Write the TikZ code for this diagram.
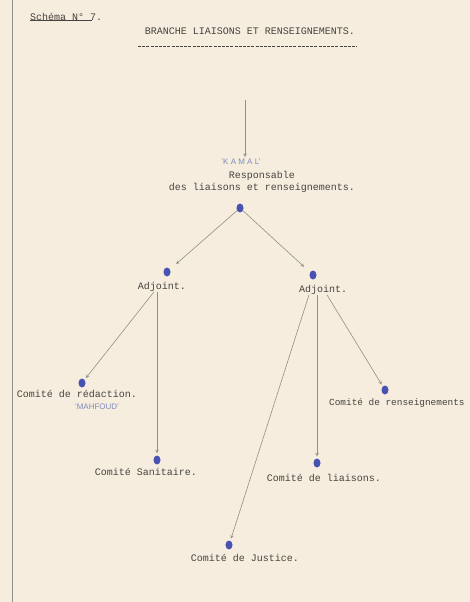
\documentclass[tikz,border=0pt]{standalone}
\usepackage{fontspec}
\setmonofont{Liberation Mono}
\setsansfont{Liberation Sans}
\usetikzlibrary{shapes.geometric}

\definecolor{papier}{RGB}{246,237,222}
\definecolor{encre}{RGB}{70,68,64}
\definecolor{crayon}{RGB}{125,140,190}
\definecolor{bille}{RGB}{72,82,178}
\definecolor{trait}{RGB}{145,143,140}

\tikzset{
  texte/.style={font=\ttfamily\fontsize{10}{11.5}\selectfont, text=encre, inner sep=0pt, align=center},
  crayonne/.style={font=\sffamily\fontsize{8}{9}\selectfont, text=crayon, inner sep=0pt},
  pastille/.style={ellipse, fill=bille, minimum width=7pt, minimum height=9pt, inner sep=0pt},
  fleche/.style={->, trait, line width=0.6pt, shorten >=2pt}
}

\begin{document}
\begin{tikzpicture}[>=stealth, x=1pt, y=-1pt]
        % Feuille
        \fill[papier] (0,0) rectangle (470,602);
        \useasboundingbox (0,0) rectangle (470,602);
        \draw[trait, line width=0.8pt] (12,0) -- (12,602);

        % Titre
        \node[texte, anchor=west] (schema) at (30,17) {Schéma N° 7.};
        \draw[encre, line width=0.5pt] (schema.south west) ++(0,-1) -- ++(62,0);
        \node[texte] (titre) at (250,31) {BRANCHE  LIAISONS ET RENSEIGNEMENTS.};
        \draw[encre, line width=1pt, dash pattern=on 3pt off 1.2pt] (138,47) -- (357,47);

        % Responsable
        \coordinate (haut) at (245,100);
        \node[crayonne] (kamal) at (241,162) {'K A M A L'};
        \node[texte] (resp) at (262,182) {Responsable\\des liaisons et renseignements.};
        \draw[fleche] (haut) -- (kamal.north -| haut);
        \node[pastille] (pr) at (240,208) {};

        % Adjoints
        \node[pastille] (pg) at (167,272) {};
        \node[texte] (adjg) at (162,287) {Adjoint.};
        \node[pastille] (pd) at (313,275) {};
        \node[texte] (adjd) at (323,290) {Adjoint.};
        \draw[fleche, shorten >=8pt] (pr) -- (pg);
        \draw[fleche, shorten >=8pt] (pr) -- (pd);

        % Comites
        \node[pastille] (redac) at (82,383) {};
        \node[texte] (lredac) at (77,394) {Comité de rédaction.};
        \node[crayonne] (mahfoud) at (97,407) {'MAHFOUD'};
        \node[pastille] (sani) at (157,460) {};
        \node[texte] (lsani) at (146,472) {Comité Sanitaire.};
        \node[pastille] (rens) at (385,390) {};
        \node[texte, anchor=west, font=\ttfamily\fontsize{9.4}{11}\selectfont] (lrens) at (329,403) {Comité de renseignements};
        \node[pastille] (liai) at (317,463) {};
        \node[texte] (lliai) at (324,478) {Comité de liaisons.};
        \node[pastille] (just) at (229,545) {};
        \node[texte] (ljust) at (245,558) {Comité de Justice.};

        \draw[fleche] ([xshift=-8pt]adjg.south) -- (redac);
        \draw[fleche] (adjg.south -| sani) -- (sani);
        \draw[fleche] ([xshift=-14pt]adjd.south) -- (just);
        \draw[fleche] (adjd.south -| liai) -- (liai);
        \draw[fleche] ([xshift=4pt]adjd.south) -- (rens);
    \end{tikzpicture}
\end{document}
